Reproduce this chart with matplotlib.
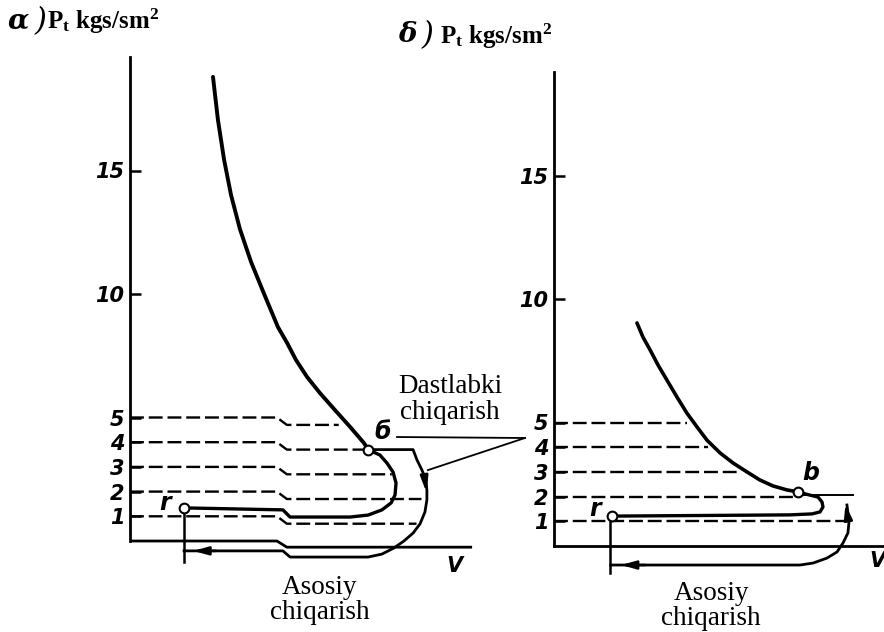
import matplotlib
matplotlib.use("Agg")
import matplotlib.pyplot as plt

plt.rcParams['mathtext.fontset'] = 'custom'
plt.rcParams['mathtext.rm'] = 'Liberation Serif:bold'
plt.rcParams['mathtext.it'] = 'Liberation Serif:italic:bold'
plt.rcParams['mathtext.bf'] = 'Liberation Serif:bold'
plt.rcParams['lines.scale_dashes'] = False

# ---------------- data (pressure in kgs/sm^2, volume in arbitrary units) ----------------
y_ticks = [1, 2, 3, 4, 5, 10, 15]
levels = [1, 2, 3, 4, 5]

# panel a
a_exp_x = [3.36, 3.56, 3.81, 4.09, 4.45, 4.90, 5.43, 5.99, 6.36, 6.72, 7.17, 7.69, 8.30, 8.91, 9.47, 9.64]
a_exp_y = [18.79, 17.05, 15.43, 14.01, 12.63, 11.30, 10.00, 8.66, 8.02, 7.33, 6.64, 5.99, 5.30, 4.62, 3.97, 3.70]
a_nose_x = [9.64, 10.12, 10.40, 10.65, 10.77, 10.73, 10.57, 10.20, 9.64, 8.91, 6.48, 6.19, 2.19]
a_nose_y = [3.70, 3.48, 3.16, 2.79, 2.35, 1.86, 1.54, 1.26, 1.05, 0.97, 0.97, 1.26, 1.34]
a_outer_x = [9.64, 11.46, 11.62, 11.82, 11.98, 12.02, 12.02, 11.94, 11.74, 11.46, 11.09, 10.69, 10.20, 9.64, 6.48, 6.19, 2.19]
a_outer_y = [3.70, 3.70, 3.28, 2.87, 2.47, 2.06, 1.66, 1.17, 0.69, 0.32, 0.0, -0.28, -0.53, -0.65, -0.65, -0.40, -0.40]
a_level_end = [11.6, 11.8, 10.6, 9.64, 8.45]
a_jog = (5.95, 6.35, 0.3)          # x start, x end, drop of the glued right half
a_b = (9.64, 3.70)
a_r = (2.19, 1.34)
a_r_drop = -0.85
a_axis_x_end = 13.85
a_axis_y_top = 19.6

# panel b
b_exp_x = [3.36, 3.60, 3.89, 4.21, 4.57, 4.98, 5.38, 5.79, 6.19, 6.72, 7.25, 7.81, 8.34, 8.87, 9.43, 9.88]
b_exp_y = [9.03, 8.46, 7.94, 7.33, 6.72, 6.03, 5.38, 4.82, 4.29, 3.77, 3.36, 3.00, 2.67, 2.43, 2.27, 2.19]
b_nose_x = [9.88, 10.36, 10.69, 10.85, 10.89, 10.77, 10.45, 9.55, 2.35]
b_nose_y = [2.19, 2.06, 1.98, 1.78, 1.58, 1.38, 1.30, 1.26, 1.21]
b_outer_x = [11.86, 11.90, 11.94, 11.90, 11.70, 11.46, 11.05, 10.49, 9.96, 2.30]
b_outer_y = [1.66, 1.34, 0.93, 0.53, 0.12, -0.24, -0.49, -0.69, -0.77, -0.77]
b_level_end = [11.86, 9.88, 7.45, 6.23, 5.38]
b_b = (9.88, 2.19)
b_r = (2.35, 1.21)
b_r_drop = -1.09
b_top_line_end = 12.1
b_axis_x_end = 14.0
b_axis_y_top = 19.2

# ---------------- layout ----------------
W, H = 884, 632
U = 24.7
fig = plt.figure(figsize=(W / 100, H / 100), dpi=100)


def make_axes(pl, pr, pt, pb, ox, oy):
    ax = fig.add_axes([pl / W, 1 - pb / H, (pr - pl) / W, (pb - pt) / H])
    ax.set_xlim((pl - ox) / U, (pr - ox) / U)
    ax.set_ylim((oy - pb) / U, (oy - pt) / U)
    ax.patch.set_alpha(0)
    for s in ['top', 'right', 'bottom']:
        ax.spines[s].set_visible(False)
    ax.spines['left'].set_position(('data', 0))
    ax.spines['left'].set_linewidth(2.0)
    ax.set_xticks([])
    ax.set_yticks(y_ticks)
    ax.set_yticklabels([str(t) for t in y_ticks], fontstyle='italic', fontweight='bold',
                       fontsize=15, family='DejaVu Sans')
    ax.tick_params(axis='y', direction='in', length=8, width=1.8, pad=4)
    return ax


axA = make_axes(0, 490, 0, 632, 130, 541)
axB = make_axes(490, 884, 0, 632, 554, 546)
axA.spines['left'].set_bounds(0, a_axis_y_top)
axB.spines['left'].set_bounds(0, b_axis_y_top)

K = 'black'
dash = (10, 3.5)

# ---- panel a ----
j0, j1, d = a_jog
axA.plot([0, j0, j1, a_axis_x_end], [0, 0, -0.25, -0.25], color=K, lw=2.0, solid_capstyle='butt')
for L, xe in zip(levels, a_level_end):
    axA.plot([0, j0, j1, xe], [L, L, L - d, L - d], color=K, lw=1.7, dashes=dash)
axA.plot(a_exp_x, a_exp_y, color=K, lw=2.8, solid_capstyle='round', solid_joinstyle='round')
axA.plot(a_nose_x, a_nose_y, color=K, lw=2.4, solid_joinstyle='round')
axA.plot(a_outer_x, a_outer_y, color=K, lw=2.0, solid_joinstyle='round')
axA.plot([a_r[0], a_r[0]], [a_r[1], a_r_drop], color=K, lw=1.8)
axA.annotate('', xy=(2.45, -0.40), xytext=(3.6, -0.40),
             arrowprops=dict(arrowstyle='-|>,head_length=0.9,head_width=0.25', color=K, lw=1.8))
axA.annotate('', xy=(12.02, 1.85), xytext=(11.9, 2.75),
             arrowprops=dict(arrowstyle='-|>,head_length=0.9,head_width=0.22', color=K, lw=2.0))
axA.plot(*a_b, 'o', ms=7, mfc='white', mec=K, mew=1.5)
axA.plot(*a_r, 'o', ms=7, mfc='white', mec=K, mew=1.5)
axA.text(a_b[0] + 0.6, a_b[1] + 0.7, 'б', fontsize=17, fontstyle='italic', fontweight='bold',
         ha='center', va='center', family='DejaVu Sans')
axA.text(a_r[0] - 0.75, a_r[1] + 0.2, 'r', fontsize=17, fontstyle='italic', fontweight='bold',
         ha='center', va='center', family='DejaVu Sans')
axA.text(13.15, -1.0, 'V', fontsize=15, fontstyle='italic', fontweight='bold',
         ha='center', va='center', family='DejaVu Sans')
axA.text(12.96, 5.71, 'Dastlabki\nchiqarish', fontsize=19.5, family='Liberation Serif',
         ha='center', va='center', linespacing=1.05)
axA.text(7.69, -2.39, 'Asosiy\nchiqarish', fontsize=19.5, family='Liberation Serif',
         ha='center', va='center', linespacing=1.0)
# leader lines
axA.plot([10.81, 15.99], [4.21, 4.17], color=K, lw=1.3, clip_on=False)
axA.plot([12.06, 15.99], [2.87, 4.17], color=K, lw=1.3, clip_on=False)

# ---- panel b ----
axB.plot([0, b_axis_x_end], [0, 0], color=K, lw=2.0)
for L, xe in zip(levels, b_level_end):
    axB.plot([0, xe], [L, L], color=K, lw=1.7, dashes=dash)
axB.plot([b_b[0], b_top_line_end], [2.05, 2.05], color=K, lw=1.4)
axB.plot(b_exp_x, b_exp_y, color=K, lw=2.6, solid_capstyle='round', solid_joinstyle='round')
axB.plot(b_nose_x, b_nose_y, color=K, lw=2.4, solid_joinstyle='round')
axB.plot(b_outer_x, b_outer_y, color=K, lw=2.0, solid_joinstyle='round')
axB.plot([b_r[0] - 0.08, b_r[0] - 0.08], [b_r[1], b_r_drop], color=K, lw=1.8)
axB.annotate('', xy=(2.6, -0.77), xytext=(3.8, -0.77),
             arrowprops=dict(arrowstyle='-|>,head_length=0.9,head_width=0.25', color=K, lw=1.8))
axB.annotate('', xy=(11.78, 1.80), xytext=(11.92, 1.0),
             arrowprops=dict(arrowstyle='-|>,head_length=0.9,head_width=0.25', color=K, lw=1.8))
axB.plot(*b_b, 'o', ms=7, mfc='white', mec=K, mew=1.5)
axB.plot(*b_r, 'o', ms=7, mfc='white', mec=K, mew=1.5)
axB.text(b_b[0] + 0.5, b_b[1] + 0.75, 'b', fontsize=17, fontstyle='italic', fontweight='bold',
         ha='center', va='center', family='DejaVu Sans')
axB.text(b_r[0] - 0.7, b_r[1] + 0.3, 'r', fontsize=17, fontstyle='italic', fontweight='bold',
         ha='center', va='center', family='DejaVu Sans')
axB.text(13.1, -0.6, 'V', fontsize=15, fontstyle='italic', fontweight='bold',
         ha='center', va='center', family='DejaVu Sans', clip_on=False)
axB.text(6.36, -2.43, 'Asosiy\nchiqarish', fontsize=19.5, family='Liberation Serif',
         ha='center', va='center', linespacing=1.0)

# ---- titles ----
def ftxt(px, py, s, **kw):
    fig.text(px / W, 1 - py / H, s, **kw)

ftxt(18, 21, 'α', fontsize=20, fontstyle='italic', fontweight='bold', family='DejaVu Serif',
     ha='center', va='center')
ftxt(40, 22, ')', fontsize=22, fontstyle='italic', family='DejaVu Serif', ha='center', va='center')
ftxt(47, 29, r'$\mathrm{P_t\ kgs/sm^2}$', fontsize=18, ha='left', va='baseline')
ftxt(407, 35, 'δ', fontsize=20, fontstyle='italic', fontweight='bold', family='DejaVu Serif',
     ha='center', va='center')
ftxt(427, 36, ')', fontsize=22, fontstyle='italic', family='DejaVu Serif', ha='center', va='center')
ftxt(440, 44, r'$\mathrm{P_t\ kgs/sm^2}$', fontsize=18, ha='left', va='baseline')

fig.savefig('out.png', dpi=100, facecolor='white')
